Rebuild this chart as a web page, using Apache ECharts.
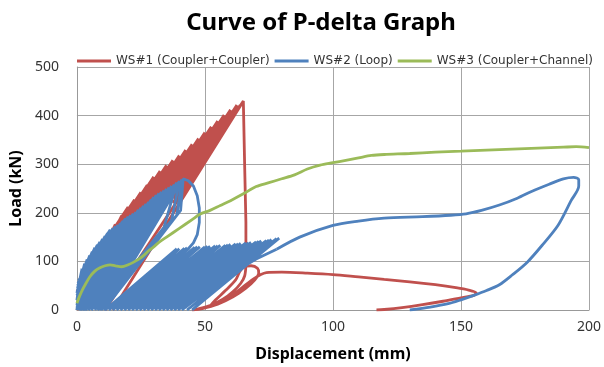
<!DOCTYPE html>
<html>
<head>
<meta charset="utf-8">
<title>Curve of P-delta Graph</title>
<script src="https://cdn.jsdelivr.net/npm/echarts@6/dist/echarts.min.js"></script>
<style>
  html, body { margin: 0; padding: 0; background: #fff; }
  #chart { width: 604px; height: 367px; }
</style>
</head>
<body>
<div id="chart"></div>
<script>
const seriesNames = ["WS#1 (Coupler+Coupler)", "WS#2 (Loop)", "WS#3 (Coupler+Channel)"];
const xTicks = [0, 50, 100, 150, 200];
const yTicks = [0, 100, 200, 300, 400, 500];

// WS#1 cyclic part (displacement mm, load kN)
const ws1Cycles = [
  [0, 0], [10, 131], [0.5, 20], [11.25, 136], [1, 15], [12.5, 153], [2, 30], [13.75, 156], [2, 20],
  [15, 176], [3, 40], [16.25, 178], [3, 25], [17.5, 194], [4, 50], [18.75, 196], [5, 30],
  [20, 212], [5, 92], [21.25, 212], [6, 40], [22.5, 227], [8.75, 117], [23.75, 228], [0, 38],
  [25, 242], [10, 122], [26.25, 243], [1, 43], [27.5, 257], [13.75, 147], [28.75, 258], [5, 68],
  [30, 274], [15, 154], [31.25, 273], [6.25, 73], [32.5, 286], [20, 186], [33.75, 285], [11.25, 105],
  [35, 298], [18.75, 168], [36.25, 296], [11.25, 96], [37.5, 308], [23.75, 198], [38.75, 306],
  [17.5, 136], [40, 318], [23.75, 188], [41.25, 316], [16.25, 116], [42.5, 329], [30, 229],
  [43.75, 328], [21.25, 148], [45, 341], [30, 221], [46.25, 340], [21.25, 140], [47.5, 353],
  [33.75, 243], [48.75, 353], [27.5, 183], [50, 365], [33.75, 235], [51.25, 364], [27.5, 174],
  [52.5, 377], [40, 277], [53.75, 376], [31.25, 196], [55, 389], [40, 269], [56.25, 388],
  [31.25, 188], [57.5, 401], [43.75, 291], [58.75, 400], [37.5, 230], [60, 412], [43.75, 282],
  [61.25, 410], [37.5, 220], [62.5, 422], [50, 322], [63.75, 421], [45, 271], [64.5, 426],
  [14, 0], [64.8, 428], [11, 0], [65, 430], [65.5, 300], [66, 180], [66, 90]
];
// WS#1 post-peak part
const ws1Tail = [
  [66, 90], [65.5, 70], [64, 55], [61, 38], [57, 22], [52, 9], [47, 2], [45, 0], [49, 3], [55, 12],
  [61, 27], [66, 45], [69.5, 62], [71, 76], [70.5, 86], [68, 91], [65, 88], [63.5, 78], [62, 62],
  [58, 40], [54, 20], [52, 8], [56, 16], [61, 32], [66, 52], [69, 64], [71.5, 72], [74, 77],
  [80, 78], [90, 76], [100, 73], [110, 68], [120, 63], [130, 58], [140, 52], [148, 46], [153, 41],
  [156, 35], [155, 30], [150, 25], [143, 18], [135, 11], [127, 5], [120, 1], [117, 0]
];

// WS#2 cyclic part: dense upper fan, right-hand loop, then the lower bundle
const ws2Cycles = [
  [0, 0], [1, 62], [0, 20], [2, 85], [0, 35], [3, 95], [0, 10], [4, 104], [0.2, 45], [5, 112],
  [0.3, 0], [6, 120], [0.3, 50], [7, 128], [0, 30], [8, 134], [0.4, 55], [9, 140], [0.5, 0], [10, 146],
  [0.2, 40], [11, 152], [1, 0], [12, 158], [0.6, 60], [13, 165], [0.5, 10], [14, 168], [0.4, 50],
  [15, 172], [1.2, 0], [16, 175], [0, 30], [17, 178], [1, 0], [18, 183], [0.5, 55], [19, 188],
  [1.5, 0], [20, 192], [0.2, 40], [21, 195], [1.5, 0], [22, 198], [0.5, 20], [23, 201], [2, 0],
  [24, 206], [0.8, 0], [25, 210], [2.5, 0], [26, 214], [1.4, 0], [27, 218], [3, 0], [28, 222],
  [2.3, 0], [29, 227], [3.5, 0], [30, 232], [3.2, 0], [31, 236], [4.5, 0], [32, 240], [4.4, 0],
  [33, 243], [5.5, 0], [34, 246], [5.7, 0], [35, 249], [7, 0], [36, 252], [7, 0], [37, 255],
  [8, 0], [38, 258], [8.2, 0], [34, 170], [39, 262], [9, 0], [37, 185], [40, 265], [9.5, 0],
  [39, 195], [41, 268], [10.5, 0], [40.5, 205], [41.5, 270], [43.5, 266], [45.5, 255], [47, 235],
  [47.8, 210], [47.8, 180], [47, 155], [45.5, 138], [43.5, 126], [40, 117],
  [11, 0], [39, 126], [12.5, 0], [40, 126], [14, 0], [42, 127], [28, 55], [43, 128], [15.5, 0],
  [44, 128], [17, 0], [46, 129], [32, 62], [47, 130], [18.5, 0], [48, 130], [20, 0], [50, 130],
  [36, 60], [51, 131], [21.5, 0], [52, 131], [23, 0], [54, 132], [40, 62], [55, 132], [24.5, 0],
  [56, 133], [26, 0], [58, 133], [45, 66], [59, 134], [27.5, 0], [60, 135], [29, 0], [62, 136],
  [49, 70], [63, 136], [30.5, 0], [64, 137], [32, 0], [66, 138], [53, 72], [67, 138], [33.5, 0],
  [68, 139], [35, 0], [70, 140], [57, 75], [71, 141], [36.5, 0], [72, 142], [38, 0], [74, 143],
  [61, 82], [75, 144], [39.5, 0], [76, 145], [41, 0], [78, 147], [43, 0], [79, 148], [45, 0],
  [62, 80], [70, 105], [78, 125]
];
// WS#2 large final loop
const ws2Tail = [
  [78, 125], [87, 150], [100, 174], [110, 183], [120, 189], [135, 192], [146, 195], [152, 198],
  [158, 205], [165, 216], [172, 230], [178, 245], [185, 260], [190, 270], [194, 273], [196, 268],
  [196, 255], [193, 225], [188, 175], [182, 135], [176, 99], [170, 72], [165, 52], [160, 40],
  [155, 30], [150, 21], [145, 13], [138, 6], [130, 0]
];

// WS#3 monotonic curve
const ws3 = [
  [0, 14], [1, 28], [2, 40], [3, 50], [5, 68], [7, 80], [9, 87], [11, 91], [13, 93], [15, 91],
  [17.5, 89], [20, 93], [22, 98], [24, 104], [26, 112], [28, 122], [30, 130], [32, 139], [35, 150],
  [40, 168], [45, 186], [48, 197], [52, 205], [56, 215], [60, 225], [65, 239], [70, 254], [75, 262],
  [80, 270], [85, 278], [90, 290], [95, 298], [100, 303], [105, 308], [110, 313], [115, 318],
  [120, 320], [130, 322], [140, 325], [150, 327], [160, 329], [170, 331], [180, 333], [190, 335],
  [195, 336], [200, 334]
];

const colors = ["#c0504d", "#4f81bd", "#9bbb59"];
const font = "'Noto Sans', 'Open Sans', sans-serif";

const lineSeries = (name, data, color, smooth) => ({
  name,
  type: "line",
  data,
  showSymbol: false,
  smooth,
  lineStyle: { color, width: 2.8 },
  itemStyle: { color },
  emphasis: { disabled: true },
  animation: false,
});

const chart = echarts.init(document.getElementById("chart"), null, { renderer: "canvas" });

chart.setOption({
  animation: false,
  title: {
    text: "Curve of P-delta Graph",
    left: 316,
    textAlign: "center",
    top: 6,
    textStyle: { fontFamily: font, fontSize: 24, fontWeight: "bold", color: "#000" },
  },
  legend: {
    data: seriesNames,
    left: 72,
    top: 50,
    itemWidth: 34,
    itemHeight: 3,
    itemGap: 5,
    icon: "rect",
    textStyle: { fontFamily: "'DejaVu Sans', sans-serif", fontSize: 12, color: "#333" },
  },
  grid: { left: 76, right: 15, top: 67, bottom: 57 },
  xAxis: {
    type: "value",
    min: xTicks[0],
    max: xTicks[xTicks.length - 1],
    interval: 50,
    name: "Displacement (mm)",
    nameLocation: "middle",
    nameGap: 36,
    nameTextStyle: { fontFamily: font, fontSize: 16, fontWeight: "bold", color: "#000" },
    axisLine: { lineStyle: { color: "#999" } },
    axisTick: { show: false },
    axisLabel: { fontFamily: font, fontSize: 14, color: "#333", margin: 10 },
    splitLine: { lineStyle: { color: "#a6a6a6" } },
  },
  yAxis: {
    type: "value",
    min: yTicks[0],
    max: yTicks[yTicks.length - 1],
    interval: 100,
    name: "Load (kN)",
    nameLocation: "middle",
    nameGap: 52,
    nameTextStyle: { fontFamily: font, fontSize: 16, fontWeight: "bold", color: "#000" },
    axisLine: { show: true, lineStyle: { color: "#999" } },
    axisTick: { show: false },
    axisLabel: { fontFamily: font, fontSize: 14, color: "#333", margin: 18 },
    splitLine: { lineStyle: { color: "#a6a6a6" } },
  },
  series: [
    lineSeries(seriesNames[0], ws1Cycles, colors[0], false),
    lineSeries(seriesNames[0], ws1Tail, colors[0], 0.3),
    lineSeries(seriesNames[1], ws2Cycles, colors[1], false),
    lineSeries(seriesNames[1], ws2Tail, colors[1], 0.3),
    lineSeries(seriesNames[2], ws3, colors[2], 0.3),
  ],
});

window.addEventListener("resize", () => chart.resize());
</script>
</body>
</html>
